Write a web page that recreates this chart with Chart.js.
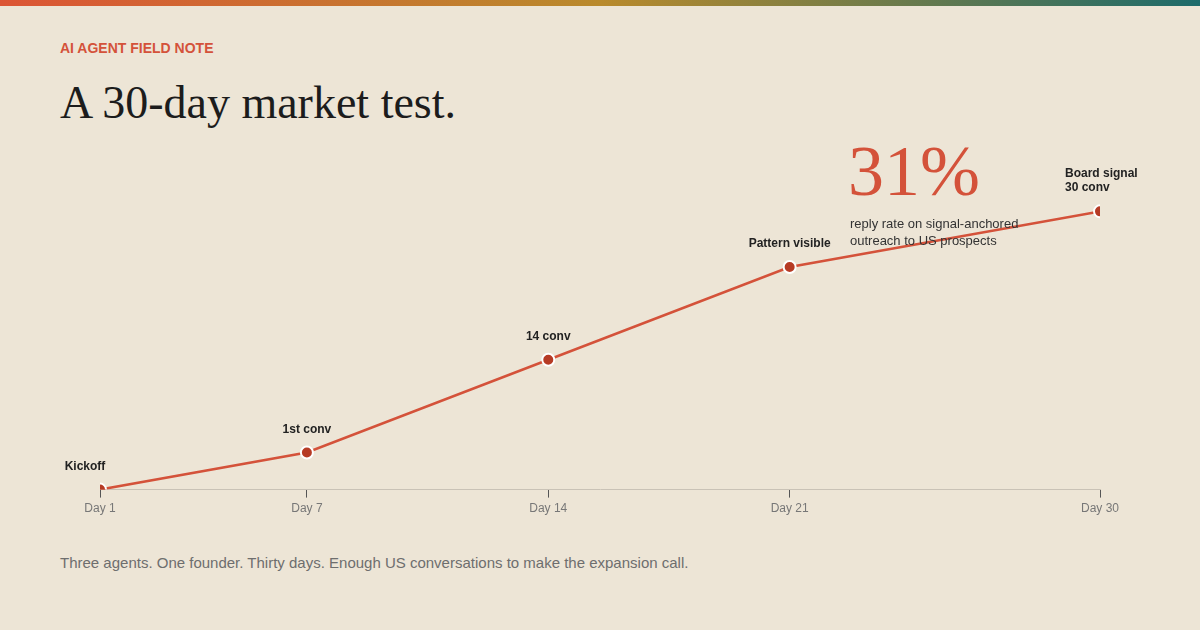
<!DOCTYPE html>
<html><head><meta charset="utf-8">
<script src="https://cdn.jsdelivr.net/npm/chart.js@4/dist/chart.umd.min.js"></script>
<style>
body{margin:0;width:1200px;height:630px;background:#ede5d6;font-family:"Liberation Sans",Arial,sans-serif;position:relative;overflow:hidden}
.bar{position:absolute;left:0;top:0;width:1200px;height:6px;background:linear-gradient(90deg,#dc5535,#b98a2c 50%,#1d6b6b)}
.kick{position:absolute;left:60px;top:40px;font-size:14px;font-weight:bold;color:#d4523a}
h1{position:absolute;left:60px;top:76px;margin:0;font:46px "Liberation Serif",serif;color:#1c1c1c;font-weight:normal}
.big{position:absolute;left:848px;top:130px;font:72px "Liberation Serif",serif;color:#d4523a}
.sub{position:absolute;left:850px;top:215px;font-size:13px;line-height:17px;color:#333}
.foot{position:absolute;left:60px;top:554px;font-size:15px;color:#6e6e6e}
#wrap{position:absolute;left:0;top:0;width:1200px;height:520px}
</style></head><body>
<div class="bar"></div>
<div class="kick">AI AGENT FIELD NOTE</div>
<h1>A 30-day market test.</h1>
<div id="wrap"><canvas id="c"></canvas></div>
<div class="big">31%</div>
<div class="sub">reply rate on signal-anchored<br>outreach to US prospects</div>
<div class="foot">Three agents. One founder. Thirty days. Enough US conversations to make the expansion call.</div>
<script>
const days = [1, 7, 14, 21, 30];
const convs = [0, 4, 14, 24, 30];
const labels = [["Kickoff"], ["1st conv"], ["14 conv"], ["Pattern visible"], ["Board signal", "30 conv"]];

const pointLabels = {
  id: 'pointLabels',
  afterDatasetsDraw(chart) {
    const c = chart.ctx;
    const pts = chart.getDatasetMeta(0).data;
    c.save();
    c.font = 'bold 12px "Liberation Sans", Arial, sans-serif';
    c.fillStyle = '#222';
    pts.forEach((p, i) => {
      const lines = labels[i];
      if (i === 0) { c.textAlign = 'center'; c.fillText(lines[0], p.x - 15, p.y - 20); }
      else if (i === pts.length - 1) {
        c.textAlign = 'left';
        c.fillText(lines[0], p.x - 35, p.y - 34);
        c.fillText(lines[1], p.x - 35, p.y - 20);
      } else { c.textAlign = 'center'; c.fillText(lines[0], p.x, p.y - 20); }
    });
    c.restore();
  }
};

new Chart(document.getElementById('c'), {
  type: 'line',
  data: { datasets: [{
    data: days.map((d, i) => ({ x: d, y: convs[i] })),
    borderColor: '#d4523a', borderWidth: 2.5,
    pointBackgroundColor: '#b63b25', pointBorderColor: '#fff', pointBorderWidth: 2, pointRadius: 6,
    tension: 0
  }]},
  options: {
    responsive: true, maintainAspectRatio: false, animation: false,
    layout: { padding: { left: 100, right: 100, top: 165, bottom: 0 } },
    plugins: { legend: { display: false }, tooltip: { enabled: false } },
    scales: {
      x: {
        type: 'linear', min: 1, max: 30,
        afterBuildTicks: ax => { ax.ticks = days.map(v => ({ value: v })); },
        ticks: { callback: v => 'Day ' + v, color: '#777', font: { size: 12, family: '"Liberation Sans", Arial' }, padding: 4, maxRotation: 0 },
        grid: { drawOnChartArea: false, color: '#555', tickLength: 8 },
        border: { color: '#c9c2b6' }
      },
      y: { min: 0, max: 35, display: false }
    }
  },
  plugins: [pointLabels]
});
</script>
</body></html>
